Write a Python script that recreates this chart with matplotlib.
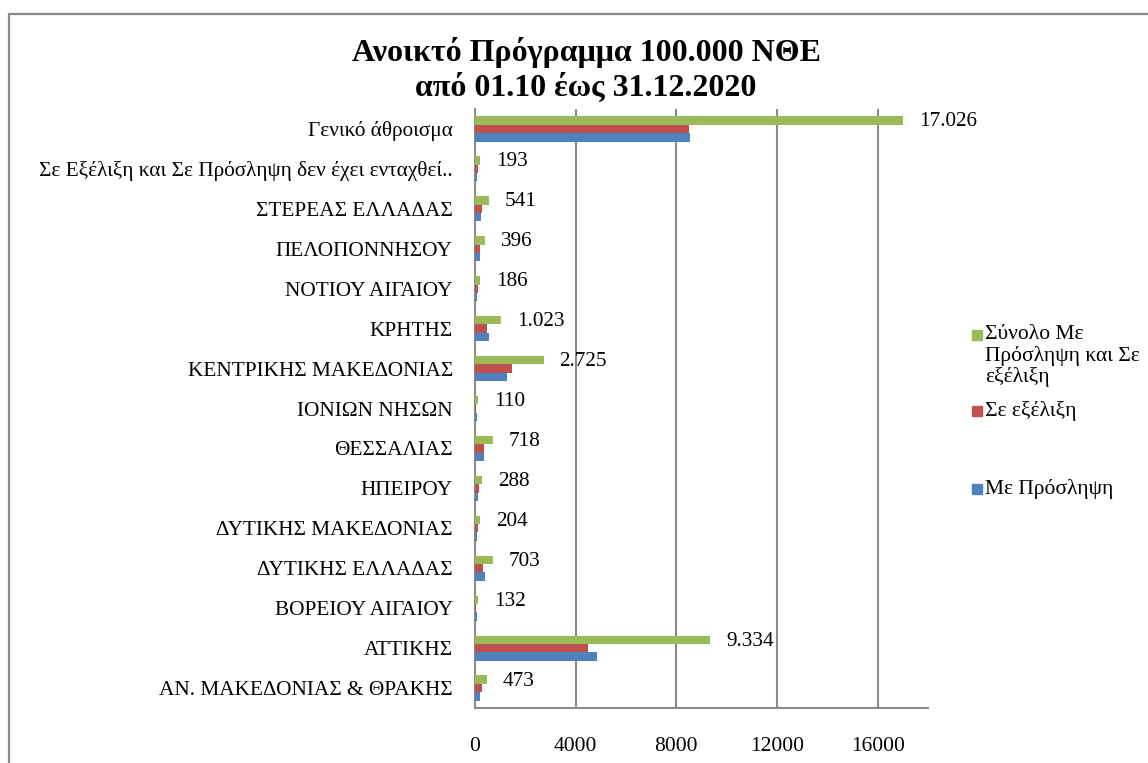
import numpy as np
import matplotlib
matplotlib.use("Agg")
import matplotlib.pyplot as plt
from matplotlib.patches import Rectangle

GREEN, RED, BLUE, GRID = "#9BBB59", "#C0504D", "#4F81BD", "#8C8C8C"
plt.rcParams.update({"font.family": ["Liberation Serif", "DejaVu Serif"], "text.color": "black"})

# bottom to top, as drawn
regions = ["ΑΝ. ΜΑΚΕΔΟΝΙΑΣ & ΘΡΑΚΗΣ", "ΑΤΤΙΚΗΣ", "ΒΟΡΕΙΟΥ ΑΙΓΑΙΟΥ", "ΔΥΤΙΚΗΣ ΕΛΛΑΔΑΣ",
           "ΔΥΤΙΚΗΣ ΜΑΚΕΔΟΝΙΑΣ", "ΗΠΕΙΡΟΥ", "ΘΕΣΣΑΛΙΑΣ", "ΙΟΝΙΩΝ ΝΗΣΩΝ", "ΚΕΝΤΡΙΚΗΣ ΜΑΚΕΔΟΝΙΑΣ",
           "ΚΡΗΤΗΣ", "ΝΟΤΙΟΥ ΑΙΓΑΙΟΥ", "ΠΕΛΟΠΟΝΝΗΣΟΥ", "ΣΤΕΡΕΑΣ ΕΛΛΑΔΑΣ",
           "Σε Εξέλιξη και Σε Πρόσληψη δεν έχει ενταχθεί..", "Γενικό άθροισμα"]
total = [473, 9334, 132, 703, 204, 288, 718, 110, 2725, 1023, 186, 396, 541, 193, 17026]
in_progress = [260, 4500, 40, 310, 110, 150, 370, 40, 1460, 470, 100, 200, 290, 100, 8500]
hired = [213, 4834, 92, 393, 94, 138, 348, 70, 1265, 553, 86, 196, 251, 93, 8526]
total_labels = ["473", "9.334", "132", "703", "204", "288", "718", "110", "2.725", "1.023",
                "186", "396", "541", "193", "17.026"]
series_names = ["Σύνολο Με\nΠρόσληψη και Σε\nεξέλιξη", "Σε εξέλιξη", "Με Πρόσληψη"]

FS = 15.3
fig = plt.figure(figsize=(11.48, 7.63), dpi=100)
fig.patches.append(Rectangle((9 / 1148, -0.1), 1.2, 1 - 14 / 763 + 0.1, transform=fig.transFigure,
                             fill=False, edgecolor="#8A8A8A", lw=1.6))
ax = fig.add_axes([475 / 1148, 55 / 763, 453 / 1148, 599 / 763])

y = np.arange(len(regions)); h = 0.21
ax.barh(y - h, hired, h, color=BLUE, zorder=3)
ax.barh(y, in_progress, h, color=RED, zorder=3)
bg = ax.barh(y + h, total, h, color=GREEN, zorder=3)
for b, t in zip(bg, total_labels):
    ax.annotate(t, (b.get_width(), b.get_y() + b.get_height() / 2), xytext=(11.5, -1),
                textcoords="offset points", va="center", ha="left", fontsize=FS)

ax.set_xlim(0, 18000); ax.set_ylim(-0.5, len(regions) - 0.5)
ax.set_xticks([0, 4000, 8000, 12000, 16000])
ax.xaxis.grid(True, color=GRID, lw=1.5, zorder=0); ax.set_axisbelow(True)
ax.set_yticks(y); ax.set_yticklabels(regions, fontsize=FS)
ax.tick_params(axis="y", length=0, pad=16)
ax.tick_params(axis="x", length=0, pad=21, labelsize=15.5)
for s in ["top", "right"]: ax.spines[s].set_visible(False)
for s in ["left", "bottom"]: ax.spines[s].set_color(GRID); ax.spines[s].set_linewidth(1.5)

for line, yy in zip(["Ανοικτό Πρόγραμμα 100.000 ΝΘΕ", "από 01.10 έως 31.12.2020"], [52, 88]):
    fig.text(586 / 1148, 1 - yy / 763, line, ha="center", va="center", fontsize=23, weight="bold")

# legend drawn by hand to keep Excel's uneven spacing
for col, name, yy in zip([GREEN, RED, BLUE], series_names, [335, 411, 489]):
    fig.patches.append(Rectangle((972 / 1148, 1 - (yy + 5) / 763), 10 / 1148, 10 / 763,
                                 transform=fig.transFigure, color=col))
    fig.text(985 / 1148, 1 - (yy - 10) / 763, name, ha="left", va="top", fontsize=15.5, linespacing=1.1)

fig.savefig("out.png", dpi=100)
